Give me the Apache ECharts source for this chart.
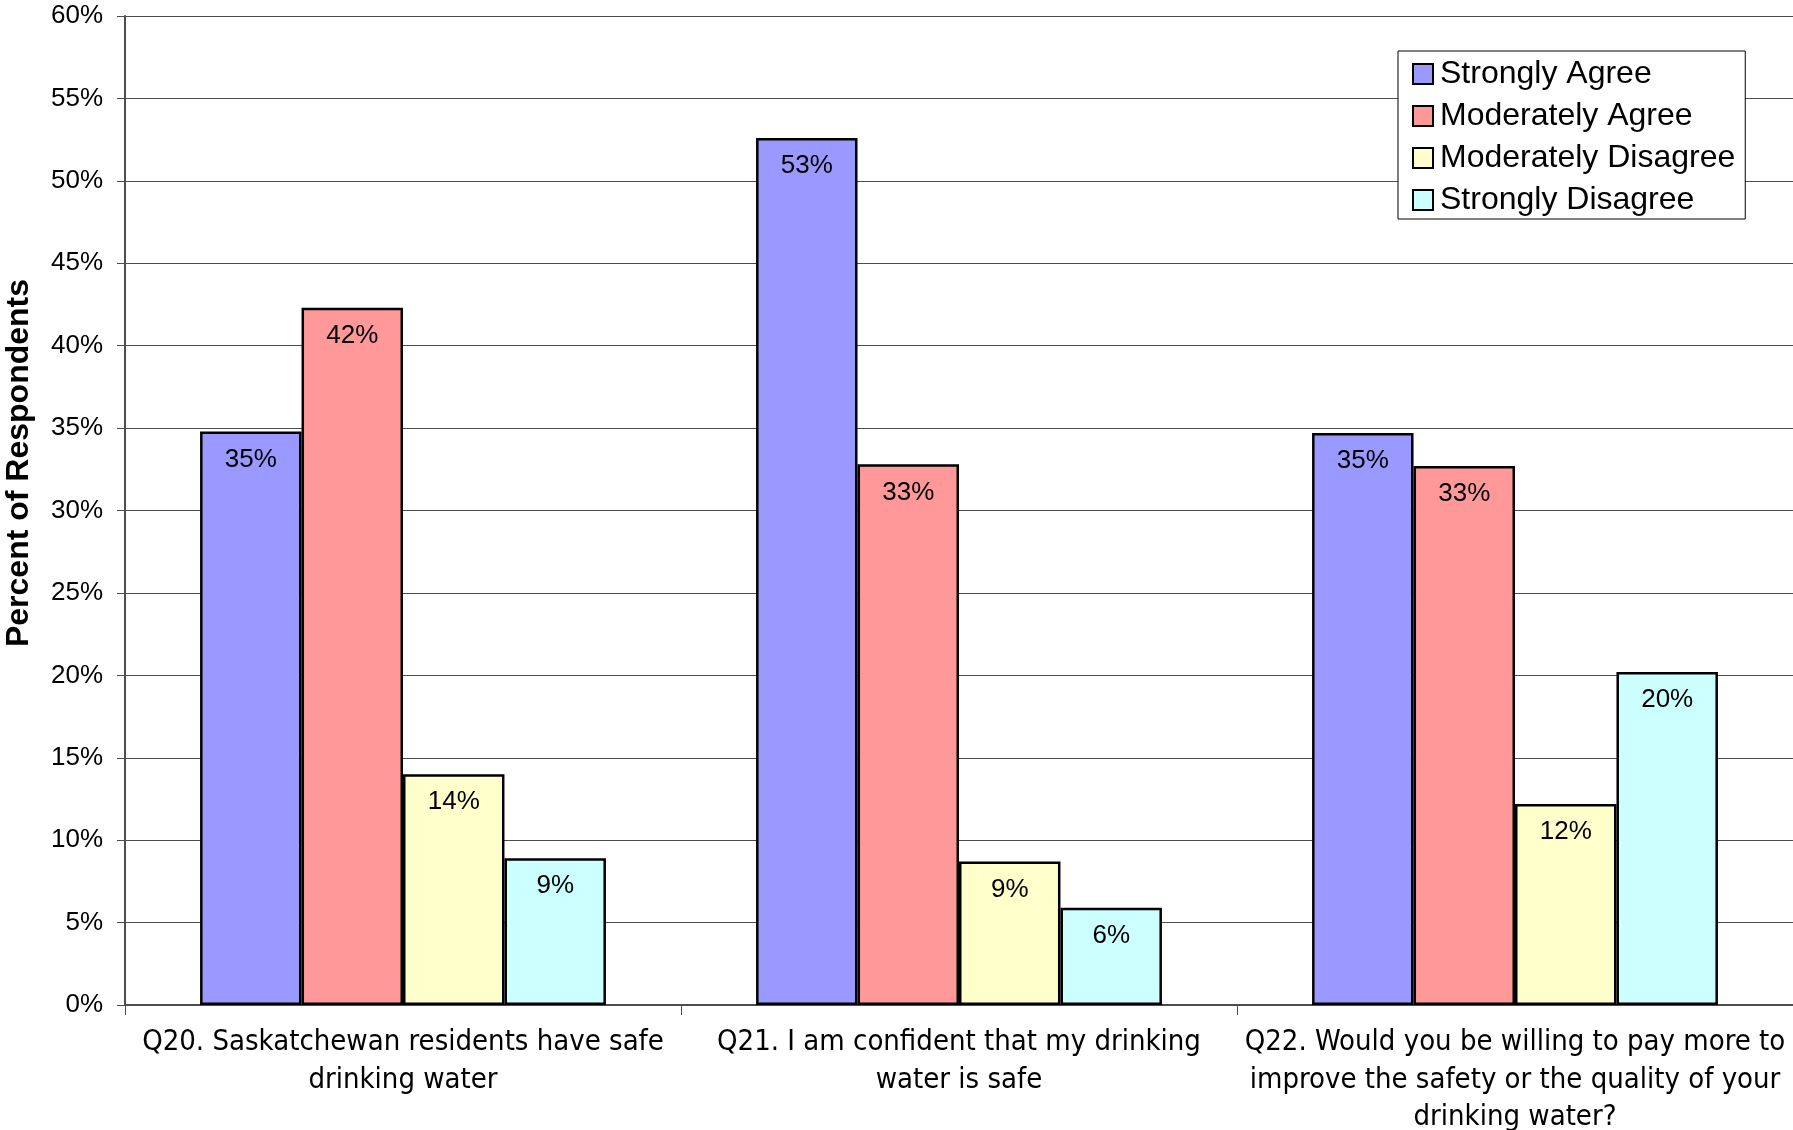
<!DOCTYPE html>
<html>
<head>
<meta charset="utf-8">
<style>
  html, body { margin: 0; padding: 0; background: #fff; }
  #chart { width: 1793px; height: 1130px; }
</style>
<script src="https://cdn.jsdelivr.net/npm/echarts@6/dist/echarts.min.js"></script>
</head>
<body>
<div id="chart"></div>
<script>
// Survey questions (category axis)
const questions = [
  'Q20. Saskatchewan residents have safe\ndrinking water',
  'Q21. I am confident that my drinking\nwater is safe',
  'Q22. Would you be willing to pay more to\nimprove the safety or the quality of your\ndrinking water?'
];

// Percent of respondents per answer, one value per question
const stronglyAgree      = [34.8, 52.6, 34.7];
const moderatelyAgree    = [42.3, 32.8, 32.7];
const moderatelyDisagree = [14.0, 8.7, 12.2];
const stronglyDisagree   = [8.9, 5.9, 20.2];

const seriesNames = ['Strongly Agree', 'Moderately Agree', 'Moderately Disagree', 'Strongly Disagree'];
const seriesColors = ['#9999FF', '#FF9999', '#FFFFCC', '#CCFFFF'];
const seriesData = [stronglyAgree, moderatelyAgree, moderatelyDisagree, stronglyDisagree];

const yTitle = 'Percent of Respondents';

const chart = echarts.init(document.getElementById('chart'), null, { renderer: 'canvas' });

const series = seriesNames.map((name, i) => ({
  name: name,
  type: 'bar',
  data: seriesData[i],
  barGap: '0%',
  barCategoryGap: '27%',
  itemStyle: { color: seriesColors[i], borderColor: '#000', borderWidth: 2.5 },
  label: {
    show: true,
    position: 'insideTop',
    distance: 15,
    fontFamily: 'Liberation Sans, Arial, sans-serif',
    fontSize: 26,
    color: '#000',
    formatter: p => Math.round(p.value) + '%'
  },
  emphasis: { disabled: true }
}));

chart.setOption({
  animation: false,
  backgroundColor: '#fff',
  // fixed plot rectangle; the long third category line may run off the bottom edge
  grid: { left: 125, right: 0, top: 16, bottom: 125, containLabel: false, outerBoundsMode: 'none' },
  legend: {
    orient: 'vertical',
    left: 1398,
    top: 51,
    padding: [6, 10, 2, 14],
    itemWidth: 20,
    itemHeight: 20,
    itemGap: 8,
    backgroundColor: '#fff',
    borderColor: '#000',
    borderWidth: 1,
    borderRadius: 0,
    icon: 'rect',
    textStyle: {
      fontFamily: 'Liberation Sans, Arial, sans-serif',
      fontSize: 32,
      lineHeight: 34,
      color: '#000',
      padding: [0, 0, 0, 2]
    },
    data: seriesNames
  },
  xAxis: {
    type: 'category',
    data: questions,
    boundaryGap: true,
    axisLine: { show: true, lineStyle: { color: '#4d4d4d', width: 2 } },
    axisTick: { show: true, length: 10, alignWithLabel: false, lineStyle: { color: '#4d4d4d', width: 1 } },
    axisLabel: {
      interval: 0,
      margin: 19,
      fontFamily: 'DejaVu Sans Condensed, Tahoma, sans-serif',
      fontSize: 29,
      lineHeight: 37.5,
      color: '#000',
      align: 'center'
    },
    splitLine: { show: false }
  },
  yAxis: {
    type: 'value',
    min: 0,
    max: 60,
    interval: 5,
    axisLine: { show: true, lineStyle: { color: '#4d4d4d', width: 2 } },
    axisTick: { show: true, length: 8, lineStyle: { color: '#4d4d4d', width: 1 } },
    axisLabel: {
      margin: 22,
      fontFamily: 'Liberation Sans, Arial, sans-serif',
      fontSize: 26,
      color: '#000',
      formatter: '{value}%'
    },
    splitLine: { show: true, lineStyle: { color: '#4d4d4d', width: 1 } }
  },
  graphic: [{
    type: 'text',
    x: 19,
    y: 463,
    rotation: Math.PI / 2,
    style: {
      text: yTitle,
      fontFamily: 'Liberation Sans, Arial, sans-serif',
      fontWeight: 'bold',
      fontSize: 32,
      fill: '#000',
      textAlign: 'center',
      textVerticalAlign: 'middle'
    }
  }],
  series: series
});
</script>
</body>
</html>
